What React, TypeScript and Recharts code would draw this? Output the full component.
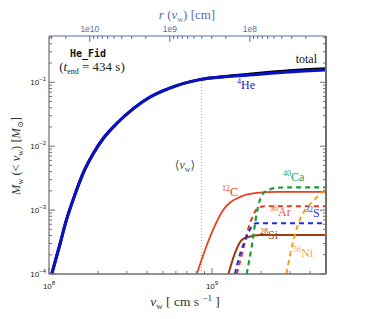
import React from 'react'
import { LineChart, Line, XAxis, YAxis } from 'recharts'

// helium (4He) and total, M_w(<v_w) in M_sun vs v_w in cm/s
const heV = [1.04e8, 1.17e8, 1.27e8, 1.45e8, 1.62e8, 1.87e8, 2.15e8, 2.6e8, 3.29e8, 4.17e8, 5.4e8, 8.4e8, 1.2e9, 1.64e9, 3e9, 5e9]
const heM = [1e-4, 3.0e-4, 6.6e-4, 1.82e-3, 3.8e-3, 7.7e-3, 0.0132, 0.0226, 0.0388, 0.0589, 0.0798, 0.110, 0.1216, 0.129, 0.145, 0.155]
const totalV = [1.04e8, 1.17e8, 1.27e8, 1.45e8, 1.62e8, 1.87e8, 2.15e8, 2.6e8, 3.29e8, 4.17e8, 5.4e8, 8.4e8, 1.2e9, 1.64e9, 3e9, 5e9]
const totalM = [1e-4, 3.0e-4, 6.6e-4, 1.82e-3, 3.8e-3, 7.7e-3, 0.0132, 0.0226, 0.0388, 0.0589, 0.0798, 0.110, 0.1235, 0.133, 0.152, 0.163]

const c12V = [8.06e8, 9.73e8, 1.17e9, 1.49e9, 1.88e9, 2.49e9, 5e9]
const c12M = [1e-4, 3.83e-4, 1.0e-3, 1.61e-3, 1.86e-3, 1.93e-3, 1.93e-3]
const si28V = [1.26e9, 1.38e9, 1.52e9, 1.67e9, 1.97e9, 5e9]
const si28M = [1e-4, 2.1e-4, 3.4e-4, 3.8e-4, 4.07e-4, 4.07e-4]
const s32V = [1.38e9, 1.49e9, 1.63e9, 1.75e9, 1.86e9, 5e9]
const s32M = [1e-4, 2.1e-4, 3.83e-4, 5.5e-4, 6.2e-4, 6.2e-4]
const ar36V = [1.42e9, 1.55e9, 1.66e9, 1.79e9, 1.92e9, 2.11e9, 5e9]
const ar36M = [1e-4, 2.4e-4, 4.9e-4, 8.3e-4, 1.09e-3, 1.15e-3, 1.15e-3]
const ca40V = [1.63e9, 1.75e9, 1.88e9, 2.02e9, 2.21e9, 2.55e9, 3.2e9, 5e9]
const ca40M = [1e-4, 2.67e-4, 8.9e-4, 1.71e-3, 2.05e-3, 2.24e-3, 2.27e-3, 2.27e-3]
const ni56V = [2.86e9, 3.01e9, 3.16e9, 3.37e9, 3.62e9, 3.99e9, 4.41e9, 5e9]
const ni56M = [1e-4, 1.98e-4, 3.4e-4, 6.0e-4, 8.97e-4, 1.24e-3, 1.60e-3, 2.13e-3]

// mean wind velocity <v_w>
const meanV = 8.6e8
const meanLineM = [1e-4, 0.104]

const xTicks = [1e8, 2e8, 3e8, 4e8, 5e8, 6e8, 7e8, 8e8, 9e8, 1e9, 2e9, 3e9, 4e9]
const yTicks = [
  1e-4, 2e-4, 3e-4, 4e-4, 5e-4, 6e-4, 7e-4, 8e-4, 9e-4,
  1e-3, 2e-3, 3e-3, 4e-3, 5e-3, 6e-3, 7e-3, 8e-3, 9e-3,
  1e-2, 2e-2, 3e-2, 4e-2, 5e-2, 6e-2, 7e-2, 8e-2, 9e-2,
  1e-1, 2e-1, 3e-1, 4e-1, 5e-1,
]
// top axis r(v_w) in cm (runs backwards)
const rDomain = [1.12e7, 3.24e10]
const rTicks = [
  2e7, 3e7, 4e7, 5e7, 6e7, 7e7, 8e7, 9e7,
  1e8, 2e8, 3e8, 4e8, 5e8, 6e8, 7e8, 8e8, 9e8,
  1e9, 2e9, 3e9, 4e9, 5e9, 6e9, 7e9, 8e9, 9e9,
  1e10, 2e10, 3e10,
]

const zip = (v: number[], m: number[]) => v.map((x, i) => ({ v: x, m: m[i] }))

const SERIF = '"Liberation Serif", "DejaVu Serif", serif'
const SANS = '"Liberation Sans", Arial, sans-serif'
const FRAME = '#707070'
const TOPBLUE = '#5a6ca8'

const isMajor = (v: number) => {
  const e = Math.log10(v)
  return Math.abs(e - Math.round(e)) < 1e-6
}
const expOf = (v: number) => Math.round(Math.log10(v))

function BottomTick({ x, y, payload }: any) {
  const v = payload.value
  const major = isMajor(v)
  return (
    <g>
      <line x1={x} x2={x} y1={y} y2={y - (major ? 6 : 3)} stroke={FRAME} />
      {major && (
        <text x={x} y={y + 15} textAnchor="middle" fontSize={8} fontFamily={SANS} fill="#222">
          10<tspan dy={-4} fontSize={6}>{expOf(v)}</tspan>
        </text>
      )}
    </g>
  )
}

function LeftTick({ x, y, payload }: any) {
  const v = payload.value
  const major = isMajor(v)
  return (
    <g>
      <line x1={x} x2={x + (major ? 6 : 3)} y1={y} y2={y} stroke={FRAME} />
      {major && (
        <text x={x - 3} y={y + 3} textAnchor="end" fontSize={8} fontFamily={SANS} fill="#222">
          10<tspan dy={-4} fontSize={6}>{'\u2212' + Math.abs(expOf(v))}</tspan>
        </text>
      )}
    </g>
  )
}

function RightTick({ x, y, payload }: any) {
  const major = isMajor(payload.value)
  return <line x1={x} x2={x - (major ? 6 : 3)} y1={y} y2={y} stroke={FRAME} />
}

function TopTick({ x, y, payload }: any) {
  const v = payload.value
  const major = isMajor(v)
  return (
    <g>
      <line x1={x} x2={x} y1={y} y2={y + (major ? 6 : 3)} stroke={TOPBLUE} />
      {major && (
        <text x={x} y={y - 4} textAnchor="middle" fontSize={8.5} fontFamily={SANS} fill={TOPBLUE}>
          {'1e' + expOf(v)}
        </text>
      )}
    </g>
  )
}

export default function App() {
  return (
    <div style={{ position: 'relative', width: 374, height: 319, background: '#fff' }}>
      <style>{'body{margin:0}'}</style>
      <LineChart width={374} height={319} margin={{ top: 35, right: 47, bottom: 44, left: 48 }}>
        <XAxis
          xAxisId="v" dataKey="v" type="number" scale="log" domain={[1e8, 5e9]} allowDataOverflow
          ticks={xTicks} interval={0} height={1} tickSize={0} tickMargin={0}
          tick={BottomTick} axisLine={{ stroke: FRAME, strokeWidth: 1.5 }} tickLine={false}
        />
        <XAxis
          xAxisId="r" dataKey="r" orientation="top" type="number" scale="log" domain={rDomain} allowDataOverflow reversed
          ticks={rTicks} interval={0} height={1} tickSize={0} tickMargin={0}
          tick={TopTick} axisLine={{ stroke: TOPBLUE, strokeWidth: 1.2 }} tickLine={false}
        />
        <YAxis
          yAxisId="m" type="number" scale="log" domain={[1e-4, 0.53]} allowDataOverflow
          ticks={yTicks} interval={0} width={1} tickSize={0} tickMargin={0}
          tick={LeftTick} axisLine={{ stroke: FRAME, strokeWidth: 1.2 }} tickLine={false}
        />
        <YAxis
          yAxisId="mr" orientation="right" type="number" scale="log" domain={[1e-4, 0.53]} allowDataOverflow
          ticks={yTicks} interval={0} width={1} tickSize={0} tickMargin={0}
          tick={RightTick} axisLine={{ stroke: FRAME, strokeWidth: 2 }} tickLine={false}
        />

        {/* invisible series so the top r axis gets drawn */}
        <Line xAxisId="r" yAxisId="mr" data={rDomain.map(r => ({ r, m: 1e-4 }))} dataKey="m"
          stroke="none" dot={false} legendType="none" isAnimationActive={false} />

        <Line xAxisId="v" yAxisId="m" data={meanLineM.map(m => ({ v: meanV, m }))} dataKey="m" type="linear"
          stroke="#aaa" strokeWidth={1} strokeDasharray="1 2" dot={false} isAnimationActive={false} />
        <Line xAxisId="v" yAxisId="m" data={zip(totalV, totalM)} dataKey="m" type="monotone"
          stroke="#000" strokeWidth={3} dot={false} isAnimationActive={false} />
        <Line xAxisId="v" yAxisId="m" data={zip(heV, heM)} dataKey="m" type="monotone"
          stroke="#0a12c8" strokeWidth={3} dot={false} isAnimationActive={false} />
        <Line xAxisId="v" yAxisId="m" data={zip(c12V, c12M)} dataKey="m" type="monotone"
          stroke="#e8401c" strokeWidth={1.8} dot={false} isAnimationActive={false} />
        <Line xAxisId="v" yAxisId="m" data={zip(si28V, si28M)} dataKey="m" type="monotone"
          stroke="#9c3c10" strokeWidth={2} dot={false} isAnimationActive={false} />
        <Line xAxisId="v" yAxisId="m" data={zip(ar36V, ar36M)} dataKey="m" type="monotone"
          stroke="#e83a1c" strokeWidth={2} strokeDasharray="5 4" dot={false} isAnimationActive={false} />
        <Line xAxisId="v" yAxisId="m" data={zip(s32V, s32M)} dataKey="m" type="monotone"
          stroke="#1a2ee0" strokeWidth={2} strokeDasharray="5 4" dot={false} isAnimationActive={false} />
        <Line xAxisId="v" yAxisId="m" data={zip(ca40V, ca40M)} dataKey="m" type="monotone"
          stroke="#1f9a3c" strokeWidth={2.2} strokeDasharray="5 4" dot={false} isAnimationActive={false} />
        <Line xAxisId="v" yAxisId="m" data={zip(ni56V, ni56M)} dataKey="m" type="monotone"
          stroke="#f5a020" strokeWidth={2} strokeDasharray="5 4" dot={false} isAnimationActive={false} />
      </LineChart>

      <svg width={374} height={319} style={{ position: 'absolute', left: 0, top: 0, pointerEvents: 'none' }}>
        <g fontFamily={SERIF}>
          <text x={187} y={19} textAnchor="middle" fontSize={13} fill={TOPBLUE}>
            <tspan fontStyle="italic">r</tspan> (<tspan fontStyle="italic">v</tspan>
            <tspan fontSize={8} dy={3}>w</tspan><tspan dy={-3}>)  [cm]</tspan>
          </text>
          <text x={185} y={306} textAnchor="middle" fontSize={13.5} fill="#333">
            <tspan fontStyle="italic">v</tspan><tspan fontSize={9} dy={3}>w</tspan>
            <tspan dy={-3}>  [ cm s </tspan><tspan dy={-5} fontSize={9}>{'\u22121'}</tspan><tspan dy={5}> ]</tspan>
          </text>
          <text transform="rotate(-90 20 156)" x={20} y={156} textAnchor="middle" fontSize={12.5} fill="#333">
            <tspan fontStyle="italic">M</tspan><tspan fontSize={8} dy={3}>w</tspan>
            <tspan dy={-3}> (&lt; </tspan><tspan fontStyle="italic">v</tspan><tspan fontSize={8} dy={3}>w</tspan>
            <tspan dy={-3}>)  [</tspan><tspan fontStyle="italic">M</tspan><tspan fontSize={8} dy={3}>{'\u2299'}</tspan>
            <tspan dy={-3}>]</tspan>
          </text>

          <text x={88} y={57} textAnchor="middle" fontSize={10} fontWeight="bold" fontFamily='"DejaVu Sans Mono", monospace' fill="#111">He_Fid</text>
          <text x={92} y={71} textAnchor="middle" fontSize={13} fill="#222">
            (<tspan fontStyle="italic">t</tspan><tspan fontSize={8} dy={3}>end</tspan><tspan dy={-3}> = 434 s)</tspan>
          </text>
          <text x={317} y={63} textAnchor="end" fontSize={12} fill="#111">total</text>
          <text x={237} y={89} fontSize={12} fill="#1a22d0"><tspan fontSize={8} dy={-5}>4</tspan><tspan dy={5}>He</tspan></text>
          <text x={185} y={169} textAnchor="middle" fontSize={12} fill="#555">
            {'\u27e8'}<tspan fontStyle="italic">v</tspan><tspan fontSize={8} dy={3}>w</tspan><tspan dy={-3}>{'\u27e9'}</tspan>
          </text>
          <text x={222} y={196} fontSize={12} fill="#e8401c"><tspan fontSize={8} dy={-5}>12</tspan><tspan dy={5}>C</tspan></text>
          <text x={283} y={181} fontSize={12} fill="#2aa048"><tspan fontSize={8} dy={-5}>40</tspan><tspan dy={5}>Ca</tspan></text>
          <text x={270} y={216} fontSize={12} fill="#ec5a3c"><tspan fontSize={8} dy={-5}>36</tspan><tspan dy={5}>Ar</tspan></text>
          <text x={305} y={217} fontSize={12} fill="#2a3ae0"><tspan fontSize={8} dy={-5}>32</tspan><tspan dy={5}>S</tspan></text>
          <text x={260} y={239} fontSize={12} fill="#9c4a28"><tspan fontSize={8} dy={-5}>28</tspan><tspan dy={5}>Si</tspan></text>
          <text x={293} y={257} fontSize={12} fill="#f5a838"><tspan fontSize={8} dy={-5}>56</tspan><tspan dy={5}>Ni</tspan></text>
        </g>
      </svg>
    </div>
  )
}
